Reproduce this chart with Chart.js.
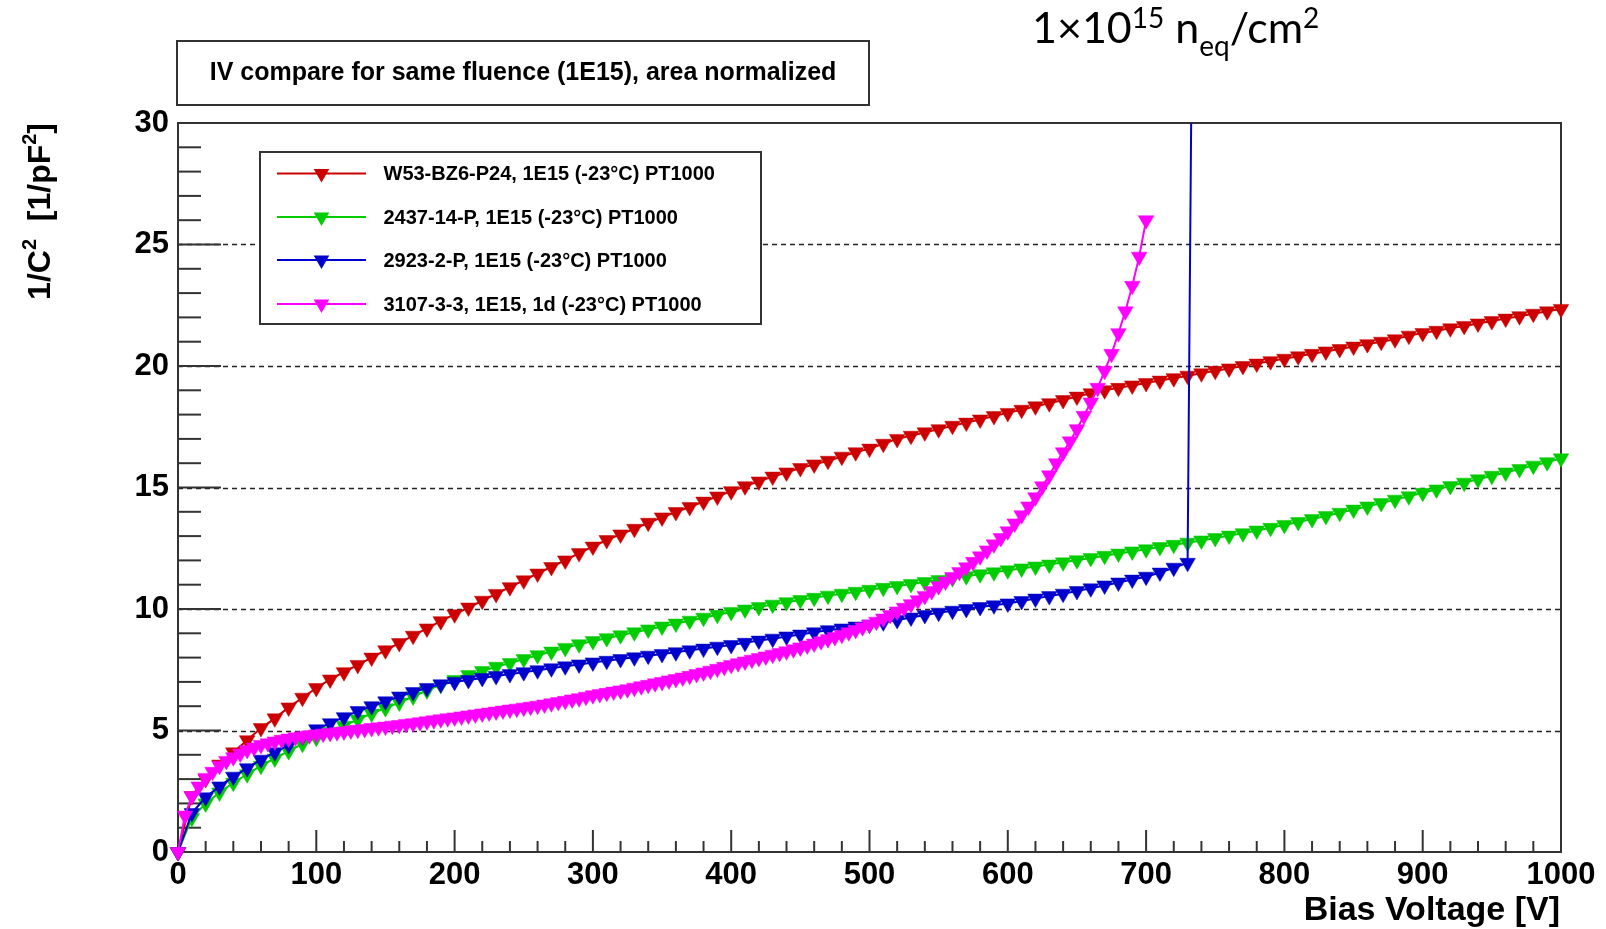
<!DOCTYPE html>
<html><head><meta charset="utf-8">
<script src="https://cdn.jsdelivr.net/npm/chart.js@4/dist/chart.umd.min.js"></script>
<style>html,body{margin:0;padding:0;background:#fff;}#wrap{width:1606px;height:929px;}</style>
</head><body><div id="wrap"><canvas id="c" width="1606" height="929"></canvas></div>
<script>
// ---------------- data ----------------
const seriesNames = [
  'W53-BZ6-P24, 1E15 (-23\u00B0C) PT1000',
  '2437-14-P, 1E15 (-23\u00B0C) PT1000',
  '2923-2-P, 1E15 (-23\u00B0C) PT1000',
  '3107-3-3, 1E15, 1d (-23\u00B0C) PT1000'
];
const xTickValues = [0,100,200,300,400,500,600,700,800,900,1000];
const yTickValues = [0,5,10,15,20,25,30];
const yGridValues = [5,10,15,20,25];

const voltage10 = [0,10,20,30,40,50,60,70,80,90,100,110,120,130,140,150,160,170,180,190,200,210,220,230,240,250,260,270,280,290,300,310,320,330,340,350,360,370,380,390,400,410,420,430,440,450,460,470,480,490,500,510,520,530,540,550,560,570,580,590,600,610,620,630,640,650,660,670,680,690,700,710,720,730,740,750,760,770,780,790,800,810,820,830,840,850,860,870,880,890,900,910,920,930,940,950,960,970,980,990,1000];

const redC = [0,2.3,3.0,3.6,4.1,4.6,5.1,5.5,5.95,6.35,
6.75,7.1,7.4,7.7,8.0,8.3,8.6,8.9,9.2,9.5,
9.78,10.06,10.34,10.62,10.9,11.18,11.46,11.73,12.0,12.3,
12.57,12.84,13.07,13.3,13.55,13.77,13.99,14.2,14.42,14.63,
14.85,15.05,15.25,15.45,15.62,15.8,15.95,16.1,16.27,16.45,
16.6,16.8,17.0,17.13,17.27,17.4,17.54,17.67,17.8,17.94,
18.07,18.2,18.34,18.47,18.6,18.74,18.88,19.0,19.1,19.2,
19.3,19.4,19.5,19.6,19.7,19.8,19.9,20.0,20.1,20.2,
20.3,20.4,20.5,20.6,20.7,20.8,20.9,21.0,21.1,21.25,
21.36,21.45,21.55,21.65,21.75,21.85,21.95,22.05,22.15,22.25,
22.35];

const greenC = [0,1.4,2.0,2.45,2.85,3.2,3.55,3.85,4.15,4.45,
4.7,4.95,5.2,5.45,5.7,5.92,6.15,6.4,6.65,6.88,
7.08,7.28,7.45,7.62,7.78,7.94,8.1,8.25,8.4,8.55,
8.68,8.8,8.92,9.04,9.16,9.28,9.4,9.52,9.64,9.76,
9.88,9.98,10.08,10.18,10.28,10.37,10.46,10.55,10.63,10.71,
10.79,10.87,10.95,11.03,11.11,11.19,11.27,11.35,11.43,11.51,
11.59,11.67,11.75,11.83,11.92,12.01,12.1,12.19,12.28,12.37,
12.46,12.55,12.64,12.73,12.82,12.92,13.02,13.12,13.23,13.34,
13.46,13.58,13.7,13.83,13.96,14.09,14.22,14.36,14.5,14.64,
14.78,14.92,15.06,15.2,15.34,15.48,15.62,15.76,15.9,16.04,
16.2];

const blueV = [0,10,20,30,40,50,60,70,80,90,100,110,120,130,140,150,160,170,180,190,200,210,220,230,240,250,260,270,280,290,300,310,320,330,340,350,360,370,380,390,400,410,420,430,440,450,460,470,480,490,500,510,520,530,540,550,560,570,580,590,600,610,620,630,640,650,660,670,680,690,700,710,720,730,735];
const blueC = [0,1.6,2.25,2.7,3.1,3.45,3.8,4.1,4.4,4.75,
5.05,5.3,5.55,5.8,6.0,6.2,6.4,6.58,6.75,6.9,
7.0,7.08,7.16,7.24,7.32,7.4,7.48,7.56,7.64,7.72,
7.8,7.87,7.94,8.01,8.08,8.15,8.22,8.3,8.37,8.45,
8.52,8.61,8.7,8.78,8.87,8.95,9.04,9.13,9.2,9.28,
9.36,9.45,9.55,9.65,9.75,9.85,9.93,10.0,10.08,10.15,
10.23,10.33,10.43,10.53,10.63,10.74,10.85,10.97,11.09,11.21,
11.33,11.5,11.7,11.9,47];

const magentaV = [0,5,10,15,20,25,30,35,40,45,50,55,60,65,70,75,80,85,90,95,
100,105,110,115,120,125,130,135,140,145,150,155,160,165,170,175,180,185,190,195,
200,205,210,215,220,225,230,235,240,245,250,255,260,265,270,275,280,285,290,295,
300,305,310,315,320,325,330,335,340,345,350,355,360,365,370,375,380,385,390,395,
400,405,410,415,420,425,430,435,440,445,450,455,460,465,470,475,480,485,490,495,
500,505,510,515,520,525,530,535,540,545,550,555,560,565,570,575,580,585,590,595,
600,605,610,615,620,625,630,635,640,645,650,655,660,665,670,675,680,685,690,695,
700];
const magentaC = [0,1.5,2.3,2.7,3.05,3.3,3.55,3.75,3.9,4.05,4.2,4.3,4.4,4.48,4.55,4.62,4.67,4.72,4.76,4.8,
4.84,4.87,4.9,4.93,4.96,5.0,5.03,5.06,5.1,5.13,5.16,5.2,5.23,5.27,5.3,5.34,5.38,5.42,5.46,5.5,
5.54,5.58,5.62,5.66,5.7,5.74,5.78,5.82,5.86,5.9,5.94,5.98,6.02,6.07,6.12,6.17,6.22,6.28,6.33,6.39,
6.45,6.5,6.55,6.6,6.65,6.7,6.76,6.82,6.88,6.94,7.0,7.06,7.12,7.18,7.25,7.32,7.39,7.46,7.54,7.62,
7.7,7.77,7.84,7.91,7.98,8.05,8.12,8.19,8.26,8.34,8.42,8.5,8.58,8.67,8.76,8.85,8.94,9.04,9.14,9.25,
9.36,9.48,9.61,9.75,9.9,10.05,10.2,10.36,10.54,10.74,10.94,11.13,11.32,11.52,11.72,11.94,12.17,12.41,12.66,12.92,
13.2,13.52,13.86,14.22,14.6,15.05,15.5,16.0,16.45,16.9,17.4,17.95,18.5,19.1,19.8,20.5,21.35,22.25,23.3,24.5,
26.0];

// ---------------- styling ----------------
const colors = ['rgb(204,0,0)', 'rgb(0,204,0)', 'rgb(0,0,204)', 'rgb(255,0,255)'];
const FONT = '"Liberation Sans", Arial, sans-serif';
const axisColor = '#333';
const MR = 9;

function pts(xs, ys) { return xs.map((x, i) => ({x: x, y: ys[i]})); }

function ds(label, xs, ys, color, order, clip) {
  return {
    label: label, data: pts(xs, ys), showLine: true,
    borderColor: color, backgroundColor: color, borderWidth: 2,
    pointStyle: 'triangle', pointRotation: 180, pointRadius: MR,
    pointBackgroundColor: color, pointBorderColor: color, pointBorderWidth: 0.5,
    pointHoverRadius: MR, tension: 0, fill: false, order: order, clip: clip
  };
}

function drawTri(ctx, cx, cy, r, color) {
  ctx.beginPath();
  ctx.moveTo(cx, cy + r);
  ctx.lineTo(cx - 0.866 * r, cy - 0.5 * r);
  ctx.lineTo(cx + 0.866 * r, cy - 0.5 * r);
  ctx.closePath();
  ctx.fillStyle = color; ctx.fill();
}

const rootPlugin = {
  id: 'rootStyle',
  beforeDraw(chart) {
    const ctx = chart.ctx;
    ctx.save(); ctx.fillStyle = '#fff'; ctx.fillRect(0, 0, chart.width, chart.height); ctx.restore();
  },
  beforeDatasetsDraw(chart) {
    const ctx = chart.ctx, a = chart.chartArea, xs = chart.scales.x, ys = chart.scales.y;
    ctx.save();
    // dashed grid
    ctx.setLineDash([5, 4]); ctx.lineWidth = 1.4; ctx.strokeStyle = '#222';
    yGridValues.forEach(v => {
      const y = Math.round(ys.getPixelForValue(v)) + 0.5;
      ctx.beginPath(); ctx.moveTo(a.left, y); ctx.lineTo(a.right, y); ctx.stroke();
    });
    ctx.setLineDash([]);
    ctx.strokeStyle = axisColor; ctx.lineWidth = 2;
    // x ticks (major 100, minor 20)
    for (let v = 0; v <= 1000; v += 20) {
      const x = xs.getPixelForValue(v);
      const len = (v % 100 === 0) ? 22 : 11;
      ctx.beginPath(); ctx.moveTo(x, a.bottom); ctx.lineTo(x, a.bottom - len); ctx.stroke();
    }
    // y ticks (major 5, minor 1)
    for (let v = 0; v <= 30; v += 1) {
      const y = ys.getPixelForValue(v);
      const len = (v % 5 === 0) ? 43 : 23;
      ctx.beginPath(); ctx.moveTo(a.left, y); ctx.lineTo(a.left + len, y); ctx.stroke();
    }
    // frame
    ctx.strokeRect(a.left, a.top, a.right - a.left, a.bottom - a.top);
    ctx.restore();
  },
  afterDraw(chart) {
    const ctx = chart.ctx;
    ctx.save();
    // title box
    ctx.fillStyle = '#fff'; ctx.fillRect(177, 41, 692, 64);
    ctx.strokeStyle = axisColor; ctx.lineWidth = 2; ctx.strokeRect(177, 41, 692, 64);
    ctx.fillStyle = '#000'; ctx.font = 'bold 25px ' + FONT;
    ctx.textAlign = 'center'; ctx.textBaseline = 'middle';
    ctx.fillText('IV compare for same fluence (1E15), area normalized', 523, 73);

    // legend box
    ctx.fillStyle = '#fff'; ctx.fillRect(260, 152, 501, 172);
    ctx.strokeStyle = axisColor; ctx.lineWidth = 2; ctx.strokeRect(260, 152, 501, 172);
    const ly = [173.5, 217, 260, 304];
    ctx.font = 'bold 20px ' + FONT; ctx.textAlign = 'left'; ctx.textBaseline = 'middle';
    seriesNames.forEach((name, i) => {
      ctx.strokeStyle = colors[i]; ctx.lineWidth = 2;
      ctx.beginPath(); ctx.moveTo(277, ly[i]); ctx.lineTo(366, ly[i]); ctx.stroke();
      drawTri(ctx, 321.5, ly[i], MR, colors[i]);
      ctx.fillStyle = '#000';
      ctx.fillText(name, 383.5, ly[i] + 1);
    });

    // x axis title
    ctx.font = 'bold 34px ' + FONT; ctx.textAlign = 'right'; ctx.textBaseline = 'alphabetic';
    ctx.fillStyle = '#000';
    ctx.fillText('Bias Voltage [V]', 1560, 920);

    // y axis title (rotated), pieces with superscripts
    const big = 'bold 32px ' + FONT, small = 'bold 20px ' + FONT;
    const pieces = [['1/C', big, 0], ['2', small, -14], ['  [1/pF', big, 0], ['2', small, -14], [']', big, 0]];
    let total = 0;
    pieces.forEach(p => { ctx.font = p[1]; total += ctx.measureText(p[0]).width; });
    ctx.translate(50, 123 + total);
    ctx.rotate(-Math.PI / 2);
    ctx.textAlign = 'left'; ctx.textBaseline = 'alphabetic';
    let px = 0;
    pieces.forEach(p => { ctx.font = p[1]; ctx.fillText(p[0], px, p[2]); px += ctx.measureText(p[0]).width; });
    ctx.setTransform(1, 0, 0, 1, 0, 0);

    // top-right annotation
    const tBig = '43px Lato, "Open Sans", sans-serif', tSmall = '28px Lato, "Open Sans", sans-serif';
    const tp = [['1\u00D710', tBig, 43], ['15', tSmall, 28], [' n', tBig, 43], ['eq', tSmall, 56], ['/cm', tBig, 43], ['2', tSmall, 28]];
    let tx = 1032;
    ctx.textAlign = 'left'; ctx.fillStyle = '#000';
    tp.forEach(p => { ctx.font = p[1]; ctx.fillText(p[0], tx, p[2]); tx += ctx.measureText(p[0]).width; });
    ctx.restore();
  }
};

const tickFont = {family: FONT, weight: 'bold', size: 31};

new Chart(document.getElementById('c'), {
  type: 'scatter',
  data: {
    datasets: [
      ds(seriesNames[0], voltage10, redC, colors[0], 4, 14),
      ds(seriesNames[1], voltage10, greenC, colors[1], 3, 14),
      ds(seriesNames[2], blueV, blueC, colors[2], 2, {left: 14, top: 0, right: 14, bottom: 14}),
      ds(seriesNames[3], magentaV, magentaC, colors[3], 1, 14)
    ]
  },
  options: {
    responsive: false, devicePixelRatio: 1, animation: false,
    layout: {padding: {left: 0, top: 123, right: 45, bottom: 0}},
    plugins: {legend: {display: false}, tooltip: {enabled: false}, title: {display: false}},
    events: [],
    scales: {
      x: {
        type: 'linear', position: 'bottom', min: 0, max: 1000,
        grid: {display: false}, border: {display: false},
        afterBuildTicks: s => { s.ticks = xTickValues.map(v => ({value: v})); },
        ticks: {font: tickFont, color: '#000', padding: -3, autoSkip: false, maxRotation: 0,
                callback: v => String(v)},
        afterFit: s => { s.height = 77; }
      },
      y: {
        type: 'linear', min: 0, max: 30,
        grid: {display: false}, border: {display: false},
        afterBuildTicks: s => { s.ticks = yTickValues.map(v => ({value: v})); },
        ticks: {font: tickFont, color: '#000', padding: 1, callback: v => String(v)},
        afterFit: s => { s.width = 178; }
      }
    }
  },
  plugins: [rootPlugin]
});
</script></body></html>
